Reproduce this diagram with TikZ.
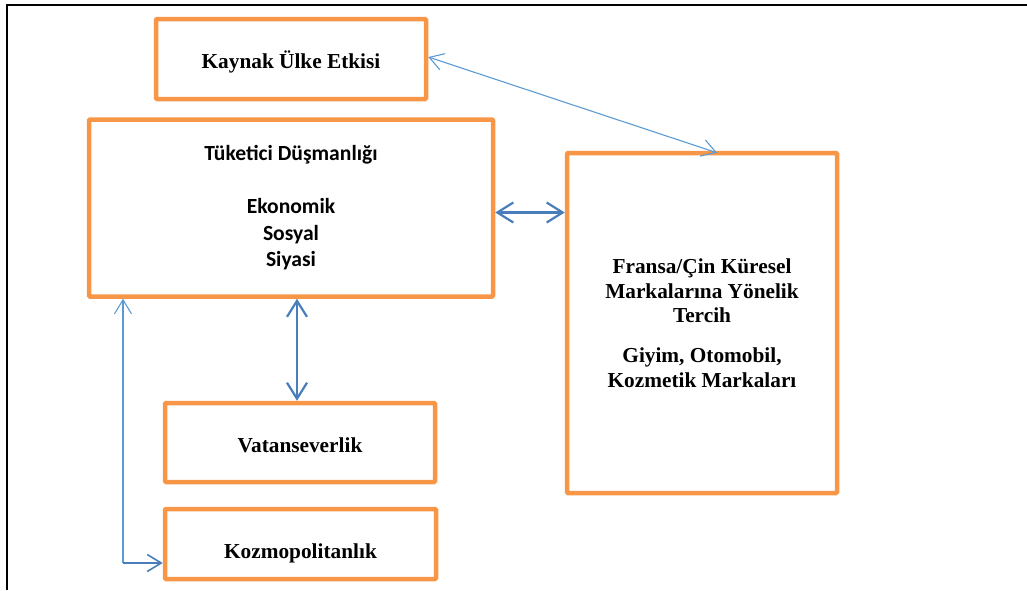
\documentclass[tikz,border=0pt]{standalone}
\usepackage{fontspec}
\setmainfont{Liberation Serif}
\newfontfamily\calibrifont{Carlito}
\usetikzlibrary{arrows.meta}
\definecolor{boxorange}{RGB}{247,150,70}
\definecolor{lightblue}{RGB}{91,155,213}
\definecolor{darkblue}{RGB}{74,126,187}
\tikzset{
  boxnode/.style={draw=boxorange, line width=4.5pt, rounded corners=1pt, inner sep=0pt, align=center, font=\bfseries\fontsize{21.3}{24.5}\selectfont},
  thinarrow/.style={draw=lightblue, line width=1.1pt},
  thickarrow/.style={draw=darkblue, line width=2.2pt},
  thinhead/.style={-{Straight Barb[length=14pt,width=17pt]}},
  thickhead/.style={{Straight Barb[length=16pt,width=20pt]}-{Straight Barb[length=16pt,width=20pt]}},
}
\begin{document}
\begin{tikzpicture}[x=1pt,y=-1pt]
\useasboundingbox (0,0) rectangle (1027,590);
% frame (top and left edges)
\draw[line width=2.5pt, line cap=rect] (7,5) -- (1027,5);
\draw[line width=2.5pt] (7,5) -- (7,590);

\node[boxnode, minimum width=270pt, minimum height=80pt, text height=22pt, text depth=4pt] (K) at (291,59) {Kaynak Ülke Etkisi};
\node[boxnode, minimum width=404pt, minimum height=177pt, font=\calibrifont\bfseries\fontsize{21.6}{26.5}\selectfont] (T) at (291,208)
  {Tüketici Düşmanlığı\\[26.5pt]Ekonomik\\Sosyal\\Siyasi};
\node[boxnode, minimum width=270pt, minimum height=340pt] (R) at (702,323)
  {Fransa/Çin Küresel\\Markalarına Yönelik\\Tercih\\[15.5pt]Giyim, Otomobil,\\Kozmetik Markaları};
\node[boxnode, minimum width=270pt, minimum height=79pt, text height=21pt, text depth=2pt] (V) at (300,442.5) {Vatanseverlik};
\node[boxnode, minimum width=271pt, minimum height=70pt, text height=30pt, text depth=2pt] (Z) at (300.5,544) {Kozmopolitanlık};

% Kaynak <-> Right box
\coordinate (k1) at ([yshift=2pt]K.east);
\coordinate (k2) at ([xshift=15pt,yshift=-2pt]R.north);
\draw[thinarrow, {Straight Barb[length=14pt,width=17pt]}-{Straight Barb[length=14pt,width=17pt]}] (k1) -- (k2);

% Tuketici <-> Right box
\coordinate (h1) at ([yshift=-4.5pt]T.east);
\draw[thickarrow, thickhead] (h1) -- (h1 -| R.west);

% Tuketici <-> Vatanseverlik
\coordinate (v1) at ([xshift=6pt]T.south);
\draw[thickarrow, thickhead] (v1) -- (v1 |- V.north);

% Kozmopolitanlik -> Tuketici (left elbow)
\coordinate (corner) at (123,563);
\draw[thinarrow, thinhead] (corner) -- (corner |- T.south);
\draw[thickarrow, line width=1.6pt, thinhead] (corner) -- (corner -| Z.west);
\end{tikzpicture}
\end{document}
